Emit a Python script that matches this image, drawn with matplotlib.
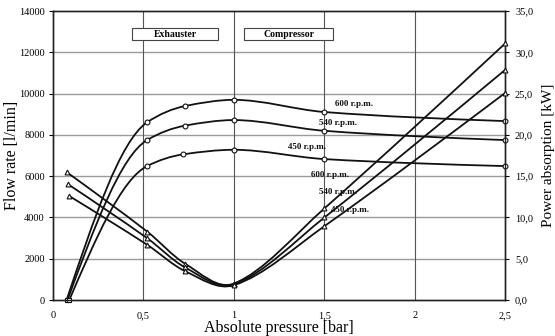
import matplotlib
matplotlib.use("Agg")
import matplotlib.pyplot as plt
from matplotlib.path import Path
from matplotlib.patches import PathPatch, Rectangle

plt.rcParams["font.family"] = ["Liberation Serif", "DejaVu Serif"]

SPEEDS = ["600 r.p.m.", "540 r.p.m.", "450 r.p.m."]

# flow rate [l/min] vs absolute pressure [bar]
FLOW_X = {
    "600 r.p.m.": [0.075, 0.52, 0.73, 1.0, 1.5, 2.5],
    "540 r.p.m.": [0.08, 0.52, 0.73, 1.0, 1.5, 2.5],
    "450 r.p.m.": [0.09, 0.52, 0.72, 1.0, 1.5, 2.5],
}
FLOW_Y = {
    "600 r.p.m.": [0, 8610, 9400, 9700, 9110, 8670],
    "540 r.p.m.": [0, 7750, 8450, 8720, 8200, 7750],
    "450 r.p.m.": [0, 6490, 7060, 7280, 6830, 6490],
}

# power absorption [kW] vs absolute pressure [bar]
POWER_X = [0.08, 0.52, 0.73, 1.0, 1.5, 2.5]
POWER_Y = {
    "600 r.p.m.": [15.5, 8.3, 4.4, 2.0, 11.1, 31.1],
    "540 r.p.m.": [14.0, 7.5, 3.95, 1.9, 10.0, 27.9],
    "450 r.p.m.": [12.6, 6.7, 3.5, 1.8, 8.95, 25.1],
}
POWER_X_START = {"600 r.p.m.": 0.075, "540 r.p.m.": 0.085, "450 r.p.m.": 0.09}

X_TICKS = [0, 0.5, 1, 1.5, 2, 2.5]
X_LABELS = ["0", "0,5", "1", "1,5", "2", "2,5"]
FLOW_TICKS = list(range(0, 14001, 2000))
POWER_TICKS = [0, 5, 10, 15, 20, 25, 30, 35]


def slopes(xs, ys, mode):
    n = len(xs)
    h = [xs[i + 1] - xs[i] for i in range(n - 1)]
    d = [(ys[i + 1] - ys[i]) / h[i] for i in range(n - 1)]
    m = [0.0] * n
    for i in range(1, n - 1):
        if mode == "pchip":
            if d[i - 1] * d[i] <= 0:
                m[i] = 0.0
            else:
                w1 = 2 * h[i] + h[i - 1]
                w2 = h[i] + 2 * h[i - 1]
                m[i] = (w1 + w2) / (w1 / d[i - 1] + w2 / d[i])
        else:
            m[i] = (ys[i + 1] - ys[i - 1]) / (xs[i + 1] - xs[i - 1])
    m[0] = 1.5 * d[0] - 0.5 * m[1]
    m[-1] = 1.5 * d[-1] - 0.5 * m[-2]
    return m


def smooth_path(xs, ys, mode="fd"):
    # smoothed line drawn as cubic Bezier segments through the data points
    m = slopes(xs, ys, mode)
    verts = [(xs[0], ys[0])]
    codes = [Path.MOVETO]
    for i in range(len(xs) - 1):
        h = xs[i + 1] - xs[i]
        verts += [(xs[i] + h / 3, ys[i] + m[i] * h / 3),
                  (xs[i + 1] - h / 3, ys[i + 1] - m[i + 1] * h / 3),
                  (xs[i + 1], ys[i + 1])]
        codes += [Path.CURVE4] * 3
    return Path(verts, codes)


fig = plt.figure(figsize=(5.55, 3.36), dpi=100)
ax = fig.add_axes([0.0955, 0.107, 0.815, 0.86])
ax2 = ax.twinx()

ax.set_xlim(0, 2.5)
ax.set_ylim(0, 14000)
ax2.set_ylim(0, 35)

for y in FLOW_TICKS[1:-1]:
    ax.axhline(y, color="#9a9a9a", lw=1.0, zorder=0)
for x in X_TICKS[1:-1]:
    ax.axvline(x, color="#555555", lw=0.8, zorder=0)

for s in SPEEDS:
    ax.add_patch(PathPatch(smooth_path(FLOW_X[s], FLOW_Y[s], "pchip"),
                           fc="none", ec="#111111", lw=1.3, zorder=3))
    ax.plot(FLOW_X[s][1:], FLOW_Y[s][1:], ls="none", marker="o", ms=3.5,
            mfc="white", mec="#111111", mew=0.8, zorder=4, clip_on=False)
    ax.plot(FLOW_X[s][:1], FLOW_Y[s][:1], ls="none", marker="s", ms=3.5,
            mfc="white", mec="#111111", mew=0.8, zorder=4, clip_on=False)

    px = [POWER_X_START[s]] + POWER_X[1:]
    ax2.add_patch(PathPatch(smooth_path(px, POWER_Y[s], "fd"), fc="none",
                            ec="#111111", lw=1.3, zorder=3))
    ax2.plot(px, POWER_Y[s], ls="none", marker="^", ms=3.5,
             mfc="white", mec="#111111", mew=0.8, zorder=4, clip_on=False)

label_kw = dict(fontsize=6.5, fontweight="bold", ha="center", va="center",
                color="#111111", zorder=5)
ax.text(1.665, 9500, "600 r.p.m.", **label_kw)
ax.text(1.577, 8590, "540 r.p.m.", **label_kw)
ax.text(1.405, 7420, "450 r.p.m.", **label_kw)
ax.text(1.532, 6060, "600 r.p.m.", **label_kw)
ax.text(1.576, 5220, "540 r.p.m.", **label_kw)
ax.text(1.643, 4360, "450 r.p.m.", **label_kw)

for x0, x1, name in [(0.435, 0.914, "Exhauster"), (1.058, 1.55, "Compressor")]:
    ax.add_patch(Rectangle((x0, 12580), x1 - x0, 580, fc="white",
                           ec="#444444", lw=0.8, zorder=5))
    ax.text((x0 + x1) / 2, 12870, name, fontsize=7, fontweight="bold",
            ha="center", va="center", zorder=6)

ax.set_xticks(X_TICKS)
ax.set_xticklabels(X_LABELS)
ax.set_yticks(FLOW_TICKS)
ax2.set_yticks(POWER_TICKS)
ax2.set_yticklabels([f"{v:.1f}".replace(".", ",") for v in POWER_TICKS])

ax.tick_params(axis="x", length=0, labelsize=7.5, pad=8)
ax.tick_params(axis="y", length=3, labelsize=7.5, pad=3)
ax2.tick_params(axis="y", length=3, labelsize=7.5, pad=4)

for sp in list(ax.spines.values()) + list(ax2.spines.values()):
    sp.set_color("#222222")
    sp.set_linewidth(1.0)

ax.set_xlabel("Absolute pressure [bar]", fontsize=11.5, labelpad=0)
ax.set_ylabel("Flow rate [l/min]", fontsize=11.5)
ax2.set_ylabel("Power absorption [kW]", fontsize=11)
ax.yaxis.set_label_coords(-0.073, 0.5)
ax2.yaxis.set_label_coords(1.082, 0.5)

fig.savefig("out.png", dpi=100)
